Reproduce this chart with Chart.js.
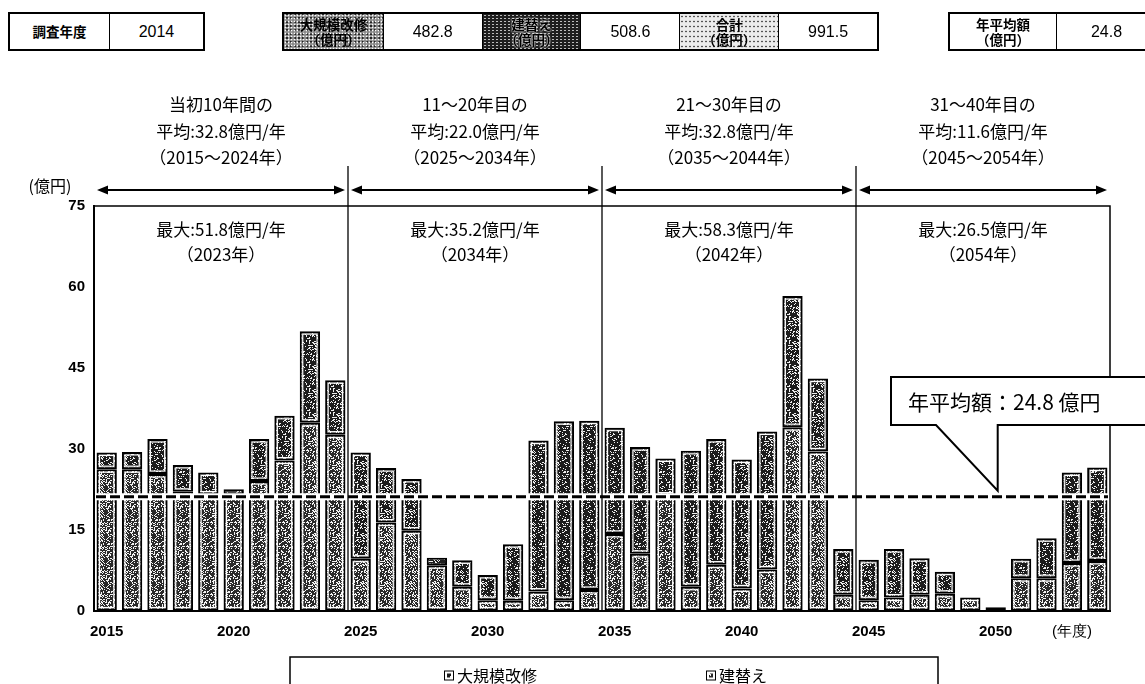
<!DOCTYPE html>
<html lang="ja">
<head>
<meta charset="utf-8">
<title>更新費用の推計</title>
<script src="https://cdn.jsdelivr.net/npm/chart.js@4.4.1/dist/chart.umd.min.js"></script>
<style>
  html, body { margin: 0; padding: 0; background: #fff; }
  #wrap { position: relative; width: 1145px; height: 684px; overflow: hidden;
          font-family: "Noto Sans CJK JP", "Liberation Sans", sans-serif; }
  #chart { position: absolute; left: 0; top: 0; }
  .box { position: absolute; top: 12px; height: 39px; border: 2px solid #000; box-sizing: border-box;
         display: flex; background: #fff; z-index: 2; }
  .cell { height: 100%; display: flex; align-items: center; justify-content: center; text-align: center;
          border-left: 1.5px solid #000; box-sizing: border-box; }
  .cell:first-child { border-left: none; }
  .lbl { font-weight: bold; font-size: 13.5px; line-height: 15px; white-space: pre; }
  .val { font-family: "Liberation Sans", sans-serif; font-size: 16px; }
  .mid { background-color: #8c8c8c;
         background-image: radial-gradient(#fff 0.7px, transparent 1.1px), radial-gradient(#222 0.7px, transparent 1.1px);
         background-size: 3px 3px, 4px 4px; background-position: 0 0, 1px 2px; }
  .dark { background-color: #1e1e1e;
          background-image: radial-gradient(#bbb 0.6px, transparent 1px);
          background-size: 4px 3px; text-shadow: 0 0 2px #fff, 0 0 2px #fff; }
  .light { background-color: #ececec;
           background-image: radial-gradient(#555 0.6px, transparent 1px);
           background-size: 4px 5px; }
</style>
</head>
<body>
<div id="wrap">
  <canvas id="chart" width="1145" height="684"></canvas>
</div>
<script>
// ---- data ----
const years = [];
for (let y = 2015; y <= 2054; y++) years.push(String(y));

// 建替え (lower part of each bar), 億円
const rebuildValues = [
  26.2, 26.2, 25.3, 22.0, 21.5, 21.5, 24.0, 27.8, 34.8, 32.6,
  9.6, 16.3, 14.8, 8.4, 4.4, 1.9, 1.8, 3.5, 1.9, 3.8,
  14.2, 10.5, 21.3, 4.4, 8.5, 4.1, 7.6, 34.0, 29.5, 2.9,
  1.9, 2.4, 2.9, 3.1, 2.4, 0.6, 6.0, 6.0, 8.8, 9.2
];
// 大規模改修 (upper part of each bar), 億円
const renovationValues = [
  3.1, 3.2, 6.5, 5.0, 4.1, 1.0, 7.8, 8.3, 17.0, 10.1,
  19.7, 10.1, 9.6, 1.4, 4.9, 4.7, 10.5, 28.0, 33.2, 31.4,
  19.7, 19.8, 6.9, 25.2, 23.3, 23.9, 25.6, 24.3, 13.5, 8.5,
  7.5, 9.0, 6.8, 4.1, 0, 0, 3.6, 7.4, 16.8, 17.3
];

const yTickValues = [0, 15, 30, 45, 60, 75];
const xTickYears = ['2015', '2020', '2025', '2030', '2035', '2040', '2045', '2050'];
const xUnitLabel = '(年度)';
const xUnitIndex = 38;
const yUnitLabel = '(億円)';

const avgLineValue = 21.1;
const avgCallout = '年平均額：24.8 億円';

const periodHeadings = ['当初10年間の', '11～20年目の', '21～30年目の', '31～40年目の'];
const periodAverages = ['平均:32.8億円/年', '平均:22.0億円/年', '平均:32.8億円/年', '平均:11.6億円/年'];
const periodRanges = ['（2015～2024年）', '（2025～2034年）', '（2035～2044年）', '（2045～2054年）'];
const periodMaxima = ['最大:51.8億円/年', '最大:35.2億円/年', '最大:58.3億円/年', '最大:26.5億円/年'];
const periodMaxYears = ['（2023年）', '（2034年）', '（2042年）', '（2054年）'];

const surveyLabel = '調査年度';
const surveyYear = '2014';
const summaryLabels = ['大規模改修\n（億円）', '建替え\n（億円）', '合計\n（億円）'];
const summaryValues = ['482.8', '508.6', '991.5'];
const annualLabel = '年平均額\n（億円）';
const annualValue = '24.8';

const seriesNames = ['大規模改修', '建替え'];

// ---- header table ----
function makeBox(left, width, cells) {
  const box = document.createElement('div');
  box.className = 'box';
  box.style.left = left + 'px';
  box.style.width = width + 'px';
  cells.forEach(c => {
    const d = document.createElement('div');
    d.className = 'cell ' + c.cls;
    d.style.width = c.w + 'px';
    d.textContent = c.text;
    box.appendChild(d);
  });
  document.getElementById('wrap').appendChild(box);
}
makeBox(8, 197, [
  { text: surveyLabel, cls: 'lbl', w: 101 },
  { text: surveyYear, cls: 'val', w: 96 }
]);
const tones = ['mid', 'dark', 'light'];
const sumCells = [];
summaryLabels.forEach((t, i) => {
  sumCells.push({ text: t, cls: 'lbl ' + tones[i], w: 99.5 });
  sumCells.push({ text: summaryValues[i], cls: 'val', w: 99.5 });
});
makeBox(282, 597, sumCells);
makeBox(948, 210, [
  { text: annualLabel, cls: 'lbl', w: 108 },
  { text: annualValue, cls: 'val', w: 102 }
]);

// ---- speckled fills (halftone look of the scan) ----
function speckle(base, dot, share) {
  const n = 24;
  const c = document.createElement('canvas');
  c.width = n; c.height = n;
  const g = c.getContext('2d');
  g.fillStyle = base;
  g.fillRect(0, 0, n, n);
  g.fillStyle = dot;
  for (let i = 0; i < n; i++) {
    for (let j = 0; j < n; j++) {
      const h = (((i + 1) * 73856093) ^ ((j + 1) * 19349663)) >>> 0;
      if (h % 1000 < share * 1000) g.fillRect(i, j, 1, 1);
    }
  }
  return g.createPattern(c, 'repeat');
}
const ctx = document.getElementById('chart').getContext('2d');
const rebuildFill = speckle('#2a2a2a', '#f4f4f4', 0.30);
const renovationFill = speckle('#1c1c1c', '#eeeeee', 0.22);

// ---- drawing helpers ----
function arrow(g, x1, x2, y) {
  g.beginPath();
  g.moveTo(x1 + 6, y);
  g.lineTo(x2 - 6, y);
  g.stroke();
  g.beginPath();
  g.moveTo(x1, y); g.lineTo(x1 + 11, y - 4.5); g.lineTo(x1 + 11, y + 4.5); g.closePath();
  g.moveTo(x2, y); g.lineTo(x2 - 11, y - 4.5); g.lineTo(x2 - 11, y + 4.5); g.closePath();
  g.fill();
}

const decor = {
  id: 'decor',
  afterDatasetsDraw(chart) {
    const g = chart.ctx;
    const area = chart.chartArea;
    g.save();
    // thin white inner frame of every bar segment
    g.strokeStyle = '#fff';
    g.lineWidth = 1.2;
    chart.data.datasets.forEach((ds, di) => {
      chart.getDatasetMeta(di).data.forEach(bar => {
        const p = bar.getProps(['x', 'y', 'base', 'width'], true);
        const top = Math.min(p.y, p.base);
        const h = Math.abs(p.base - p.y);
        if (h > 8) g.strokeRect(p.x - p.width / 2 + 3, top + 3, p.width - 6, h - 6);
      });
    });
    // average line
    const ay = chart.scales.y.getPixelForValue(avgLineValue);
    g.strokeStyle = '#fff';
    g.lineWidth = 7;
    g.beginPath(); g.moveTo(area.left + 2, ay); g.lineTo(area.right - 2, ay); g.stroke();
    g.strokeStyle = '#000';
    g.lineWidth = 3;
    g.setLineDash([10, 4]);
    g.beginPath(); g.moveTo(area.left + 2, ay); g.lineTo(area.right - 2, ay); g.stroke();
    g.restore();
  },
  afterDraw(chart) {
    const g = chart.ctx;
    const area = chart.chartArea;
    const xs = chart.scales.x;
    const step = xs.getPixelForValue(1) - xs.getPixelForValue(0);
    g.save();
    g.strokeStyle = '#000';
    g.fillStyle = '#000';
    // frame
    g.lineWidth = 1.5;
    g.beginPath();
    g.moveTo(area.left, area.top); g.lineTo(area.right, area.top); g.lineTo(area.right, area.bottom);
    g.stroke();

    const arrowY = 190;
    g.textAlign = 'center';
    g.textBaseline = 'middle';
    for (let k = 0; k < 4; k++) {
      const x0 = xs.getPixelForValue(k * 10) - step / 2;
      const x1 = xs.getPixelForValue(k * 10 + 9) + step / 2;
      const cx = (x0 + x1) / 2;
      if (k > 0) {
        g.lineWidth = 1.3;
        g.beginPath(); g.moveTo(x0, arrowY - 24); g.lineTo(x0, area.bottom); g.stroke();
      }
      g.lineWidth = 2;
      arrow(g, x0 + 3, x1 - 3, arrowY);
      g.font = '17px "Noto Sans CJK JP"';
      g.fillText(periodHeadings[k], cx, 105);
      g.fillText(periodAverages[k], cx, 132);
      g.fillText(periodRanges[k], cx, 158);
      g.fillText(periodMaxima[k], cx, 230);
      g.fillText(periodMaxYears[k], cx, 255);
    }
    g.font = '16px "Noto Sans CJK JP"';
    g.fillText(yUnitLabel, 50, arrowY - 4);

    // callout for the average
    const tipX = xs.getPixelForValue(35) + 2;
    const tipY = chart.scales.y.getPixelForValue(avgLineValue) - 6;
    g.lineWidth = 2;
    g.fillStyle = '#fff';
    g.beginPath();
    g.moveTo(891, 377); g.lineTo(1150, 377); g.lineTo(1150, 425);
    g.lineTo(tipX, 425); g.lineTo(tipX, tipY); g.lineTo(936, 425); g.lineTo(891, 425);
    g.closePath();
    g.fill(); g.stroke();
    g.fillStyle = '#000';
    g.font = '21px "Noto Sans CJK JP"';
    g.textAlign = 'left';
    g.fillText(avgCallout, 908, 402);

    // legend
    g.lineWidth = 1.5;
    g.beginPath();
    g.moveTo(290, 700); g.lineTo(290, 657); g.lineTo(938, 657); g.lineTo(938, 700);
    g.stroke();
    const legendX = [449, 711];
    const fills = [renovationFill, rebuildFill];
    g.font = '16px "Noto Sans CJK JP"';
    seriesNames.forEach((name, i) => {
      g.lineWidth = 1;
      g.strokeRect(legendX[i] - 4.5, 671, 9, 9);
      g.fillStyle = fills[i];
      g.fillRect(legendX[i] - 2, 673.5, 4, 4);
      g.fillStyle = '#000';
      g.fillText(name, legendX[i] + 8, 676);
    });
    g.restore();
  }
};

new Chart(ctx, {
  type: 'bar',
  data: {
    labels: years,
    datasets: [
      { label: '建替え', data: rebuildValues, backgroundColor: rebuildFill },
      { label: '大規模改修', data: renovationValues, backgroundColor: renovationFill }
    ].map(d => Object.assign(d, {
      borderColor: '#000', borderWidth: 2, borderSkipped: false,
      barPercentage: 0.8, categoryPercentage: 1
    }))
  },
  options: {
    responsive: false,
    animation: false,
    layout: { padding: { left: 0, right: 35, top: 206, bottom: 33.5 } },
    plugins: { legend: { display: false }, tooltip: { enabled: false } },
    scales: {
      x: {
        stacked: true,
        grid: { display: false, drawTicks: false },
        border: { color: '#000', width: 2 },
        ticks: {
          autoSkip: false, maxRotation: 0, minRotation: 0, padding: 12, color: '#000',
          font: c => ({ family: 'Liberation Sans', size: 15, weight: c.index === xUnitIndex ? 'normal' : 'bold' }),
          callback: (v, i) => i === xUnitIndex ? xUnitLabel : (xTickYears.includes(years[i]) ? years[i] : '')
        },
        afterFit: s => { s.height = 40; }
      },
      y: {
        stacked: true,
        min: 0, max: 75,
        afterBuildTicks: s => { s.ticks = yTickValues.map(v => ({ value: v })); },
        grid: { display: false, drawTicks: false },
        border: { color: '#000', width: 2 },
        ticks: { padding: 9, color: '#000', font: { family: 'Liberation Sans', size: 15, weight: 'bold' } },
        afterFit: s => { s.width = 94; }
      }
    }
  },
  plugins: [decor]
});
</script>
</body>
</html>
